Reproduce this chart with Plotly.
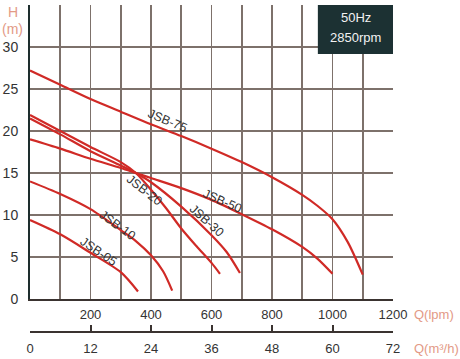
import plotly.graph_objects as go

# ---- data (flow in lpm, head in m) ----
q75 = [0, 100, 200, 300, 400, 500, 600, 700, 800, 900, 950, 1000, 1050, 1100]
h75 = [27.2, 25.5, 23.8, 22.3, 20.8, 19.4, 17.9, 16.3, 14.5, 12.4, 11.1, 9.5, 6.8, 2.9]

q50 = [0, 100, 200, 300, 350, 400, 500, 600, 700, 800, 900, 950, 1000]
h50 = [19.0, 17.9, 16.7, 15.6, 15.0, 14.4, 13.2, 11.8, 10.1, 8.3, 6.2, 4.8, 3.0]

q30 = [0, 100, 200, 300, 350, 400, 500, 600, 650, 694]
h30 = [21.5, 19.6, 17.6, 15.9, 15.0, 13.9, 11.0, 7.6, 5.6, 3.1]

q20 = [0, 100, 200, 300, 350, 400, 450, 500, 550, 600, 628]
h20 = [21.9, 20.0, 18.1, 16.3, 15.0, 13.0, 10.8, 8.4, 6.3, 4.3, 3.0]

q10 = [0, 100, 200, 300, 350, 400, 440, 470]
h10 = [14.0, 12.5, 10.7, 8.2, 6.9, 5.2, 3.3, 1.0]

q05 = [0, 100, 200, 300, 357]
h05 = [9.4, 7.7, 5.5, 3.2, 0.9]

series_names = ["JSB-75", "JSB-50", "JSB-30", "JSB-20", "JSB-10", "JSB-05"]
series_q = [q75, q50, q30, q20, q10, q05]
series_h = [h75, h50, h30, h20, h10, h05]

lpm_ticks = list(range(0, 1300, 100))
lpm_labels = ["", "", "200", "", "400", "", "600", "", "800", "", "1000", "", "1200"]
m3h_ticks = [0, 12, 24, 36, 48, 60, 72]
h_ticks = [0, 5, 10, 15, 20, 25, 30, 35]
h_labels = ["0", "5", "10", "15", "20", "25", "30", ""]

# label placements (lpm, m, angle)
label_pos = {
    "JSB-75": (456, 21.2, 23),
    "JSB-50": (635, 11.7, 24),
    "JSB-30": (585, 9.3, 42),
    "JSB-20": (377, 13.0, 38),
    "JSB-10": (288, 8.8, 36),
    "JSB-05": (228, 5.6, 34),
}

RED = "#d02a26"
GRID = "#7d716b"
SALMON = "#e39a86"
FONT = "Liberation Sans, Arial, sans-serif"

fig = go.Figure()
for name, q, h in zip(series_names, series_q, series_h):
    fig.add_trace(go.Scatter(x=q, y=h, mode="lines", name=name,
                             line=dict(color=RED, width=2.2, shape="spline", smoothing=0.8),
                             showlegend=False, hoverinfo="skip"))

# dummy trace for the m3/h axis
fig.add_trace(go.Scatter(x=[0, 72], y=[None, None], xaxis="x2", mode="lines",
                         showlegend=False, hoverinfo="skip"))

for name in series_names:
    x, y, ang = label_pos[name]
    fig.add_annotation(x=x, y=y, text=name, showarrow=False, textangle=ang,
                       xanchor="center", yanchor="middle",
                       font=dict(size=12.5, color="#333333", family=FONT))

fig.add_shape(type="rect", xref="x domain", yref="y domain",
              x0=0.793, x1=1.0, y0=0.833, y1=1.0,
              fillcolor="#1c3133", line=dict(width=0), layer="above")
fig.add_annotation(xref="x domain", yref="y domain", x=0.897, y=0.956,
                   xanchor="center", yanchor="middle",
                   text="50Hz", showarrow=False,
                   font=dict(size=13, color="#f2f2f2", family=FONT))
fig.add_annotation(xref="x domain", yref="y domain", x=0.897, y=0.891,
                   xanchor="center", yanchor="middle",
                   text="2850rpm", showarrow=False,
                   font=dict(size=13, color="#f2f2f2", family=FONT))

# axis titles
fig.add_annotation(xref="paper", yref="paper", x=-0.047, y=0.9786,
                   xanchor="center", yanchor="middle",
                   text="H", showarrow=False, font=dict(size=14, color=SALMON, family=FONT))
fig.add_annotation(xref="paper", yref="paper", x=-0.047, y=0.9266,
                   xanchor="center", yanchor="middle",
                   text="(m)", showarrow=False, font=dict(size=14, color=SALMON, family=FONT))
fig.add_annotation(xref="paper", yref="paper", x=1.052, y=0.052,
                   xanchor="left", yanchor="middle",
                   text="Q(lpm)", showarrow=False, font=dict(size=13, color=SALMON, family=FONT))
fig.add_annotation(xref="paper", yref="paper", x=1.052, y=-0.049,
                   xanchor="left", yanchor="middle",
                   text="Q(m³/h)", showarrow=False, font=dict(size=13, color=SALMON, family=FONT))

fig.update_layout(
    width=460, height=359,
    margin=dict(l=30, r=67, t=5, b=27, autoexpand=False),
    paper_bgcolor="white", plot_bgcolor="white",
    font=dict(family=FONT, color="#333333"),
    xaxis=dict(range=[0, 1200], tickvals=lpm_ticks, ticktext=lpm_labels,
               showgrid=True, gridcolor=GRID, gridwidth=1.6,
               showline=True, linecolor="#3a3330", linewidth=2,
               ticks="", zeroline=False, tickfont=dict(size=13),
               ticklabelstandoff=2, anchor="y", fixedrange=True, automargin=False),
    yaxis=dict(range=[0, 35], tickvals=h_ticks, ticktext=h_labels,
               domain=[0.1009, 1],
               showgrid=True, gridcolor=GRID, gridwidth=1.6,
               showline=True, linecolor="#1e2e2e", linewidth=2,
               ticks="", zeroline=False, tickfont=dict(size=14),
               ticklabelstandoff=7, fixedrange=True, automargin=False),
    xaxis2=dict(range=[0, 72], tickvals=m3h_ticks, overlaying="x",
                anchor="free", position=0, side="bottom",
                showline=True, linecolor="#3a3330", linewidth=2,
                ticks="inside", ticklen=6, tickwidth=2, tickcolor="#3a3330",
                showgrid=False, zeroline=False, tickfont=dict(size=13),
                ticklabelstandoff=4, fixedrange=True, automargin=False),
)

fig.write_html("out.html", config={"displayModeBar": False, "staticPlot": True},
               post_script="document.body.style.margin='0px';")
